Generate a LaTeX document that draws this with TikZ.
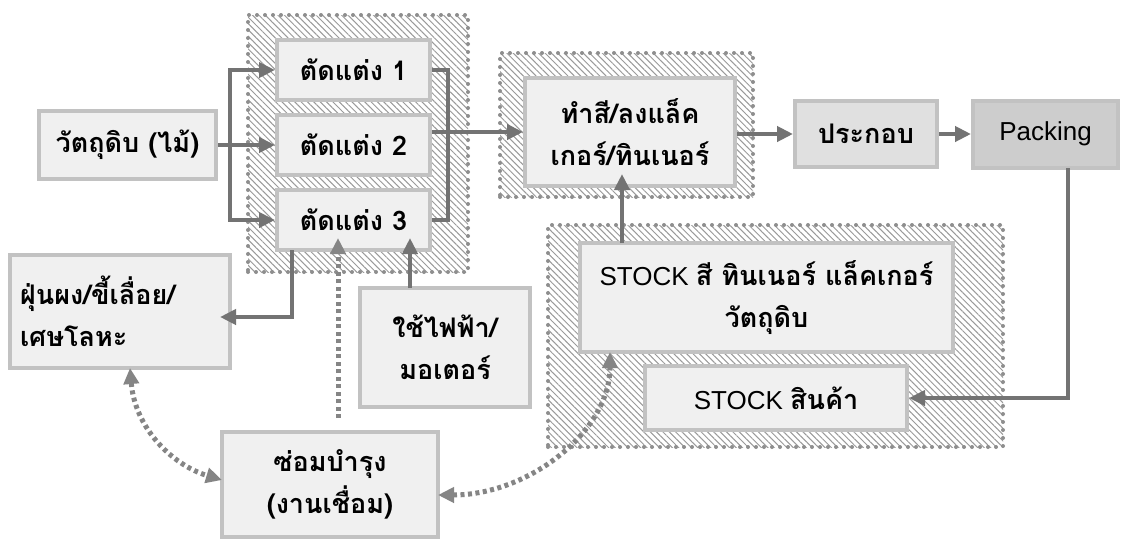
\documentclass[tikz,border=0pt]{standalone}
\usepackage{fontspec}
\setmainfont{Liberation Sans}
\newfontfamily\thaifont[Script=Thai]{Loma}
\usetikzlibrary{arrows.meta,patterns.meta}
\newcommand\tht[1]{{\thaifont\bfseries\fontsize{27}{42}\selectfont #1}}
\definecolor{argray}{HTML}{737373}
\definecolor{bordergray}{HTML}{C2C2C2}
\definecolor{boxfill}{HTML}{F0F0F0}
\definecolor{asmfill}{HTML}{E0E0E0}
\definecolor{packfill}{HTML}{CDCDCD}
\definecolor{hatchgray}{HTML}{9A9A9A}
\definecolor{dotgray}{HTML}{8E8E8E}
\definecolor{dashgray}{HTML}{858585}
\tikzset{
  grpbg/.style={fill=white, draw=none, inner sep=0pt,
    postaction={pattern={Lines[angle=-45,distance=4.5pt,line width=1pt]}, pattern color=hatchgray}},
  grp/.style={draw=dotgray, line width=4pt, line cap=round, dash pattern=on 0pt off 8pt,
    inner sep=0pt},
  box/.style={draw=bordergray, line width=4pt, fill=boxfill, inner sep=0pt,
    align=center, font=\fontsize{26}{42}\selectfont},
  conn/.style={draw=argray, line width=4.5pt},
  arrow/.style={conn, -{Triangle[length=16pt,width=15pt]}},
  dotarrow/.style={draw=dashgray, line width=5pt, dash pattern=on 4pt off 3.5pt,
    -{Triangle[length=16pt,width=15pt]}},
  dotboth/.style={draw=dashgray, line width=5pt, dash pattern=on 4pt off 3.5pt,
    {Triangle[length=16pt,width=15pt]}-{Triangle[length=16pt,width=15pt]}},
}
\begin{document}
\begin{tikzpicture}[x=1pt,y=-1pt]
\useasboundingbox[fill=white] (0,0) rectangle (1127,539);
% groups
\node[grpbg, minimum width=220pt, minimum height=257pt] (g1bg) at (358,143.5) {};
\node[grp, minimum width=220pt, minimum height=257pt] (g1) at (358,143.5) {};
\node[grpbg, minimum width=253pt, minimum height=144pt] (g2bg) at (626.5,125) {};
\node[grp, minimum width=253pt, minimum height=144pt] (g2) at (626.5,125) {};
\node[grpbg, minimum width=455pt, minimum height=222pt] (g3bg) at (775.5,336) {};
\node[grp, minimum width=455pt, minimum height=222pt] (g3) at (775.5,336) {};
% boxes
\node[box, minimum width=177pt, minimum height=68pt] (raw) at (127.5,145) {\tht{วัตถุดิบ (ไม้)}};
\node[box, minimum width=153pt, minimum height=60pt] (t1) at (353.5,70) {\tht{ตัดแต่ง 1}};
\node[box, minimum width=153pt, minimum height=60pt] (t2) at (353.5,145) {\tht{ตัดแต่ง 2}};
\node[box, minimum width=153pt, minimum height=60pt] (t3) at (353.5,220) {\tht{ตัดแต่ง 3}};
\node[box, minimum width=210pt, minimum height=108pt] (paint) at (630,132) {\tht{ทำสี/ลงแล็ค}\\\tht{เกอร์/ทินเนอร์}};
\node[box, fill=asmfill, minimum width=142pt, minimum height=66pt] (asm) at (866,134) {\tht{ประกอบ}};
\node[box, fill=packfill, minimum width=145pt, minimum height=67pt] (pack) at (1045.5,134) {Packing};
\node[box, minimum width=373pt, minimum height=109pt] (stock1) at (766.5,297.5) {STOCK \tht{สี ทินเนอร์ แล็คเกอร์}\\\tht{วัตถุดิบ}};
\node[box, minimum width=262pt, minimum height=64pt] (stock2) at (776,398) {STOCK \tht{สินค้า}};
\node[box, minimum width=220pt, minimum height=113pt, text width=200pt, align=left] (dust) at (120,311.5) {\tht{ฝุ่นผง/ขี้เลื่อย/}\\\tht{เศษโลหะ}};
\node[box, minimum width=170pt, minimum height=119pt] (elec) at (445,347.5) {\tht{ใช้ไฟฟ้า/}\\\tht{มอเตอร์}};
\node[box, minimum width=216pt, minimum height=105pt] (maint) at (330,484.5) {\tht{ซ่อมบำรุง}\\\tht{(งานเชื่อม)}};
% helper coordinates
\coordinate (split) at (230,145);
\coordinate (mx) at (448,140);
\coordinate (e1) at (410,288);
\coordinate (dl) at (338,418);
\coordinate (pk) at (1068,168);
\coordinate (s1top) at (622,243);
\coordinate (s1bot) at (610,352);
\coordinate (dustb) at (130,368);
\coordinate (t3out) at (292,250);
\coordinate (dustin) at (230,317);
\coordinate (mwin) at (222,480);
\coordinate (mein) at (438,495);
% connectors
\draw[arrow] (raw.east) -- (t2.west);
\draw[arrow] (split) |- (t1.west);
\draw[arrow] (split) |- (t3.west);
\draw[conn] (t1.east) -| (mx) |- (t3.east);
\draw[arrow] (t2.east |- paint.west) -- (paint.west);
\draw[arrow] (paint.east |- asm.west) -- (asm.west);
\draw[arrow] (asm.east) -- (pack.west |- asm.east);
\draw[arrow] (pk) |- (stock2.east);
\draw[arrow, shorten >=-14pt] (s1top) -- (s1top |- paint.south);
\draw[arrow, shorten >=-10pt] (t3out) |- (dustin);
\draw[arrow, shorten >=-14pt] (e1) -- (e1 |- t3.south);
\draw[dotarrow, shorten >=-14pt] (dl) -- (dl |- t3.south);
\draw[dotboth] (dustb) .. controls +(5,60) and +(-50,-15) .. (mwin);
\draw[dotboth] (mein) .. controls +(90,0) and +(0,80) .. (s1bot);
\end{tikzpicture}
\end{document}
